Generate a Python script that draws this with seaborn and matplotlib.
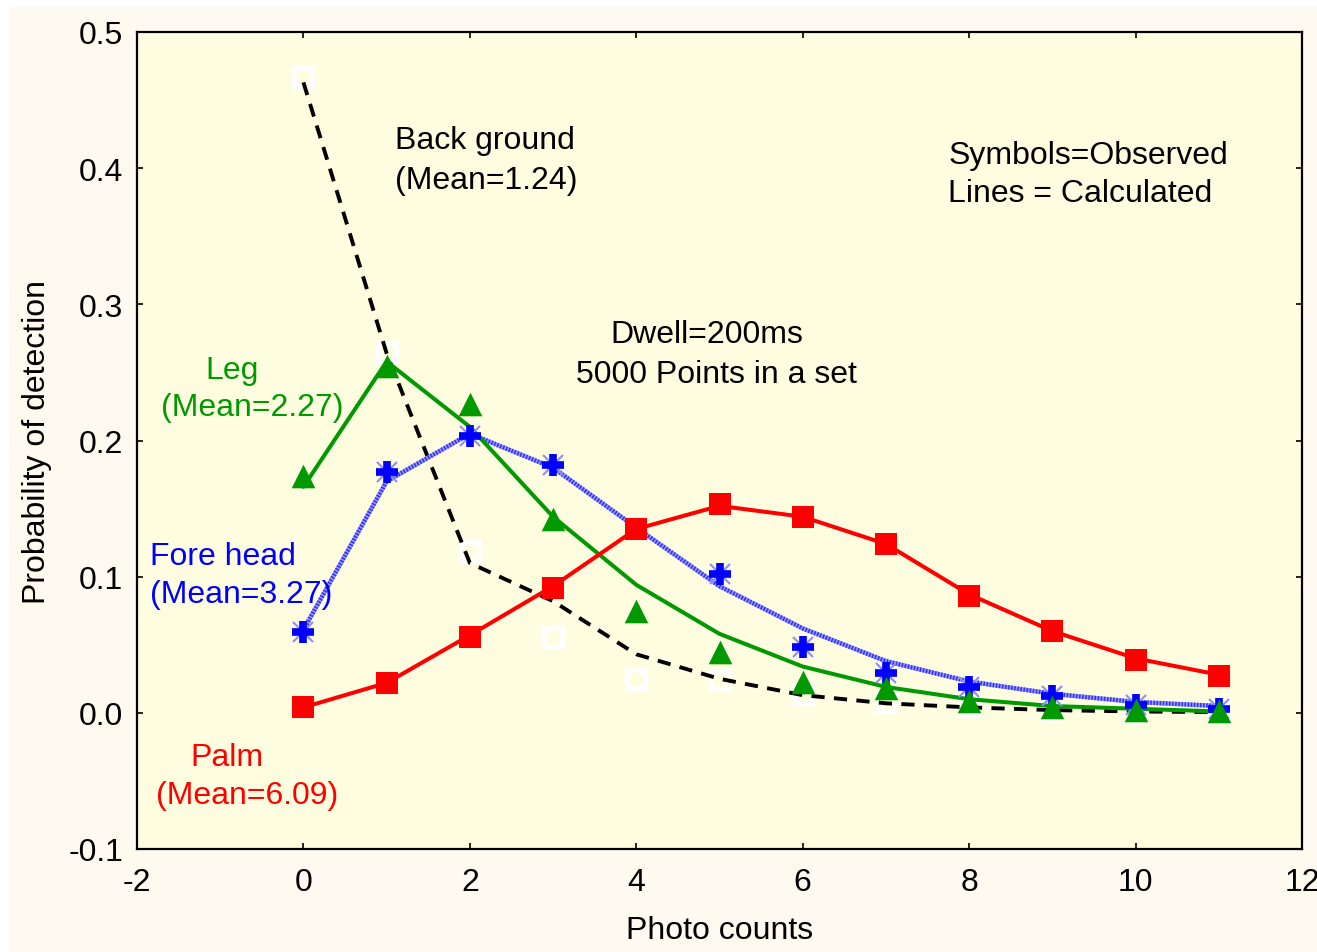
import numpy as np
import pandas as pd
import matplotlib
matplotlib.use("Agg")
import matplotlib.pyplot as plt
import seaborn as sns
from matplotlib.patches import Rectangle

# ---------------- data ----------------
counts = [0, 1, 2, 3, 4, 5, 6, 7, 8, 9, 10, 11]

bg_obs = [0.467, 0.265, 0.119, 0.056, 0.025, 0.024, 0.014, 0.008, 0.005, 0.003, 0.001, 0.0005]
bg_calc = [0.463, 0.264, 0.110, 0.082, 0.043, 0.025, 0.013, 0.007, 0.004, 0.002, 0.001, 0.0005]

leg_obs = [0.174, 0.255, 0.227, 0.142, 0.075, 0.045, 0.023, 0.018, 0.009, 0.004, 0.002, 0.001]
leg_calc = [0.166, 0.258, 0.210, 0.144, 0.094, 0.058, 0.034, 0.019, 0.010, 0.005, 0.003, 0.001]

fh_obs = [0.059, 0.177, 0.203, 0.182, 0.135, 0.102, 0.048, 0.029, 0.019, 0.012, 0.006, 0.003]
fh_calc = [0.061, 0.170, 0.205, 0.180, 0.136, 0.093, 0.062, 0.038, 0.023, 0.014, 0.008, 0.005]

palm_obs = [0.004, 0.022, 0.056, 0.092, 0.135, 0.153, 0.144, 0.124, 0.086, 0.060, 0.039, 0.027]
palm_calc = [0.004, 0.022, 0.057, 0.093, 0.135, 0.152, 0.144, 0.124, 0.087, 0.060, 0.040, 0.028]

x_ticks = [-2, 0, 2, 4, 6, 8, 10, 12]
y_ticks = [-0.1, 0.0, 0.1, 0.2, 0.3, 0.4, 0.5]
y_tick_labels = ["-0.1", "0.0", "0.1", "0.2", "0.3", "0.4", "0.5"]

df = pd.DataFrame({
    "x": counts,
    "bg_obs": bg_obs, "bg_calc": bg_calc,
    "leg_obs": leg_obs, "leg_calc": leg_calc,
    "fh_obs": fh_obs, "fh_calc": fh_calc,
    "palm_obs": palm_obs, "palm_calc": palm_calc,
})

# ---------------- style ----------------
sns.set_theme(style="ticks")
plt.rcParams["font.family"] = ["Liberation Sans", "DejaVu Sans"]
plt.rcParams["axes.unicode_minus"] = False
plt.rcParams["text.color"] = "black"
plt.rcParams["axes.labelcolor"] = "black"
plt.rcParams["xtick.color"] = "black"
plt.rcParams["ytick.color"] = "black"

FS = 23
GREEN = "#009a00"
BLUE = "#0000ff"
RED = "#ff0000"
AX_BG = "#fffde0"
OUT_BG = "#fefaf0"

fig = plt.figure(figsize=(13.17, 9.53), dpi=100, facecolor="white")
fig.patches.append(Rectangle((9 / 1317, 0), 1 - 9 / 1317, 1 - 8 / 953,
                             transform=fig.transFigure, facecolor=OUT_BG,
                             edgecolor="none", zorder=-10))
ax = fig.add_axes([137 / 1317, 1 - 850 / 953, (1302 - 137) / 1317, (850 - 33) / 953])
ax.set_facecolor(AX_BG)

# background observed: white squares with cream hole
ax.plot(df["x"], df["bg_obs"], linestyle="none", marker="s", ms=16,
        mfc="white", mec="white", zorder=2)
ax.plot(df["x"], df["bg_obs"], linestyle="none", marker="o", ms=9.5,
        mfc=AX_BG, mec=AX_BG, zorder=2.1)

# calculated lines
sns.lineplot(data=df, x="x", y="bg_calc", ax=ax, color="black", lw=2.8,
             linestyle=(0, (3.4, 2.4)), zorder=3)
sns.lineplot(data=df, x="x", y="fh_calc", ax=ax, color="#9a9aff", lw=3.2, zorder=3.1)
sns.lineplot(data=df, x="x", y="fh_calc", ax=ax, color="#3030ff", lw=3.2,
             linestyle=(0, (0.35, 0.35)), zorder=3.2)
sns.lineplot(data=df, x="x", y="leg_calc", ax=ax, color=GREEN, lw=2.9, zorder=3.3)
sns.lineplot(data=df, x="x", y="palm_calc", ax=ax, color=RED, lw=2.9, zorder=3.4)

# observed markers
ax.plot(df["x"], df["fh_obs"], linestyle="none", marker="x", ms=15, mew=1.5,
        color="#8c8cff", zorder=4)
ax.plot(df["x"], df["fh_obs"], linestyle="none", marker="+", ms=16, mew=5.5,
        color=BLUE, zorder=4.1)
sns.scatterplot(data=df, x="x", y="leg_obs", ax=ax, marker="^", s=17 ** 2,
                color=GREEN, edgecolor=GREEN, linewidth=0, zorder=4.2)
sns.scatterplot(data=df, x="x", y="palm_obs", ax=ax, marker="s", s=16 ** 2,
                color=RED, edgecolor=RED, linewidth=0, zorder=5)

# axes
ax.set_xlim(-2, 12)
ax.set_ylim(-0.1, 0.5)
ax.set_xticks(x_ticks)
ax.set_xticklabels([str(v) for v in x_ticks])
ax.set_yticks(y_ticks)
ax.set_yticklabels(y_tick_labels)
ax.tick_params(direction="in", length=4, width=1.2, labelsize=FS, colors="black",
               top=True, right=True)
ax.tick_params(axis="x", pad=13)
ax.tick_params(axis="y", pad=10)
for s in ax.spines.values():
    s.set_color("black")
    s.set_linewidth(1.6)
ax.set_xlabel("Photo counts", fontsize=FS, labelpad=13, color="black")
ax.set_ylabel("Probability of detection", fontsize=FS, labelpad=12, color="black")
ax.grid(False)

# annotations
def txt(x, y, s, color="black", ha="left"):
    ax.text(x, y, s, color=color, fontsize=FS, ha=ha, va="center", zorder=6)

txt(1.10, 0.4205, "Back ground")
txt(1.10, 0.391, "(Mean=1.24)")
txt(7.75, 0.410, "Symbols=Observed")
txt(7.75, 0.382, "Lines = Calculated")
txt(4.85, 0.278, "Dwell=200ms", ha="center")
txt(4.96, 0.249, "5000 Points in a set", ha="center")
txt(-0.86, 0.252, "Leg", color=GREEN, ha="center")
txt(-0.62, 0.2245, "(Mean=2.27)", color=GREEN, ha="center")
txt(-1.84, 0.115, "Fore head", color=BLUE)
txt(-1.84, 0.087, "(Mean=3.27)", color=BLUE)
txt(-0.92, -0.0325, "Palm", color=RED, ha="center")
txt(-0.68, -0.060, "(Mean=6.09)", color=RED, ha="center")

fig.savefig("out.png", dpi=100, facecolor=fig.get_facecolor())
